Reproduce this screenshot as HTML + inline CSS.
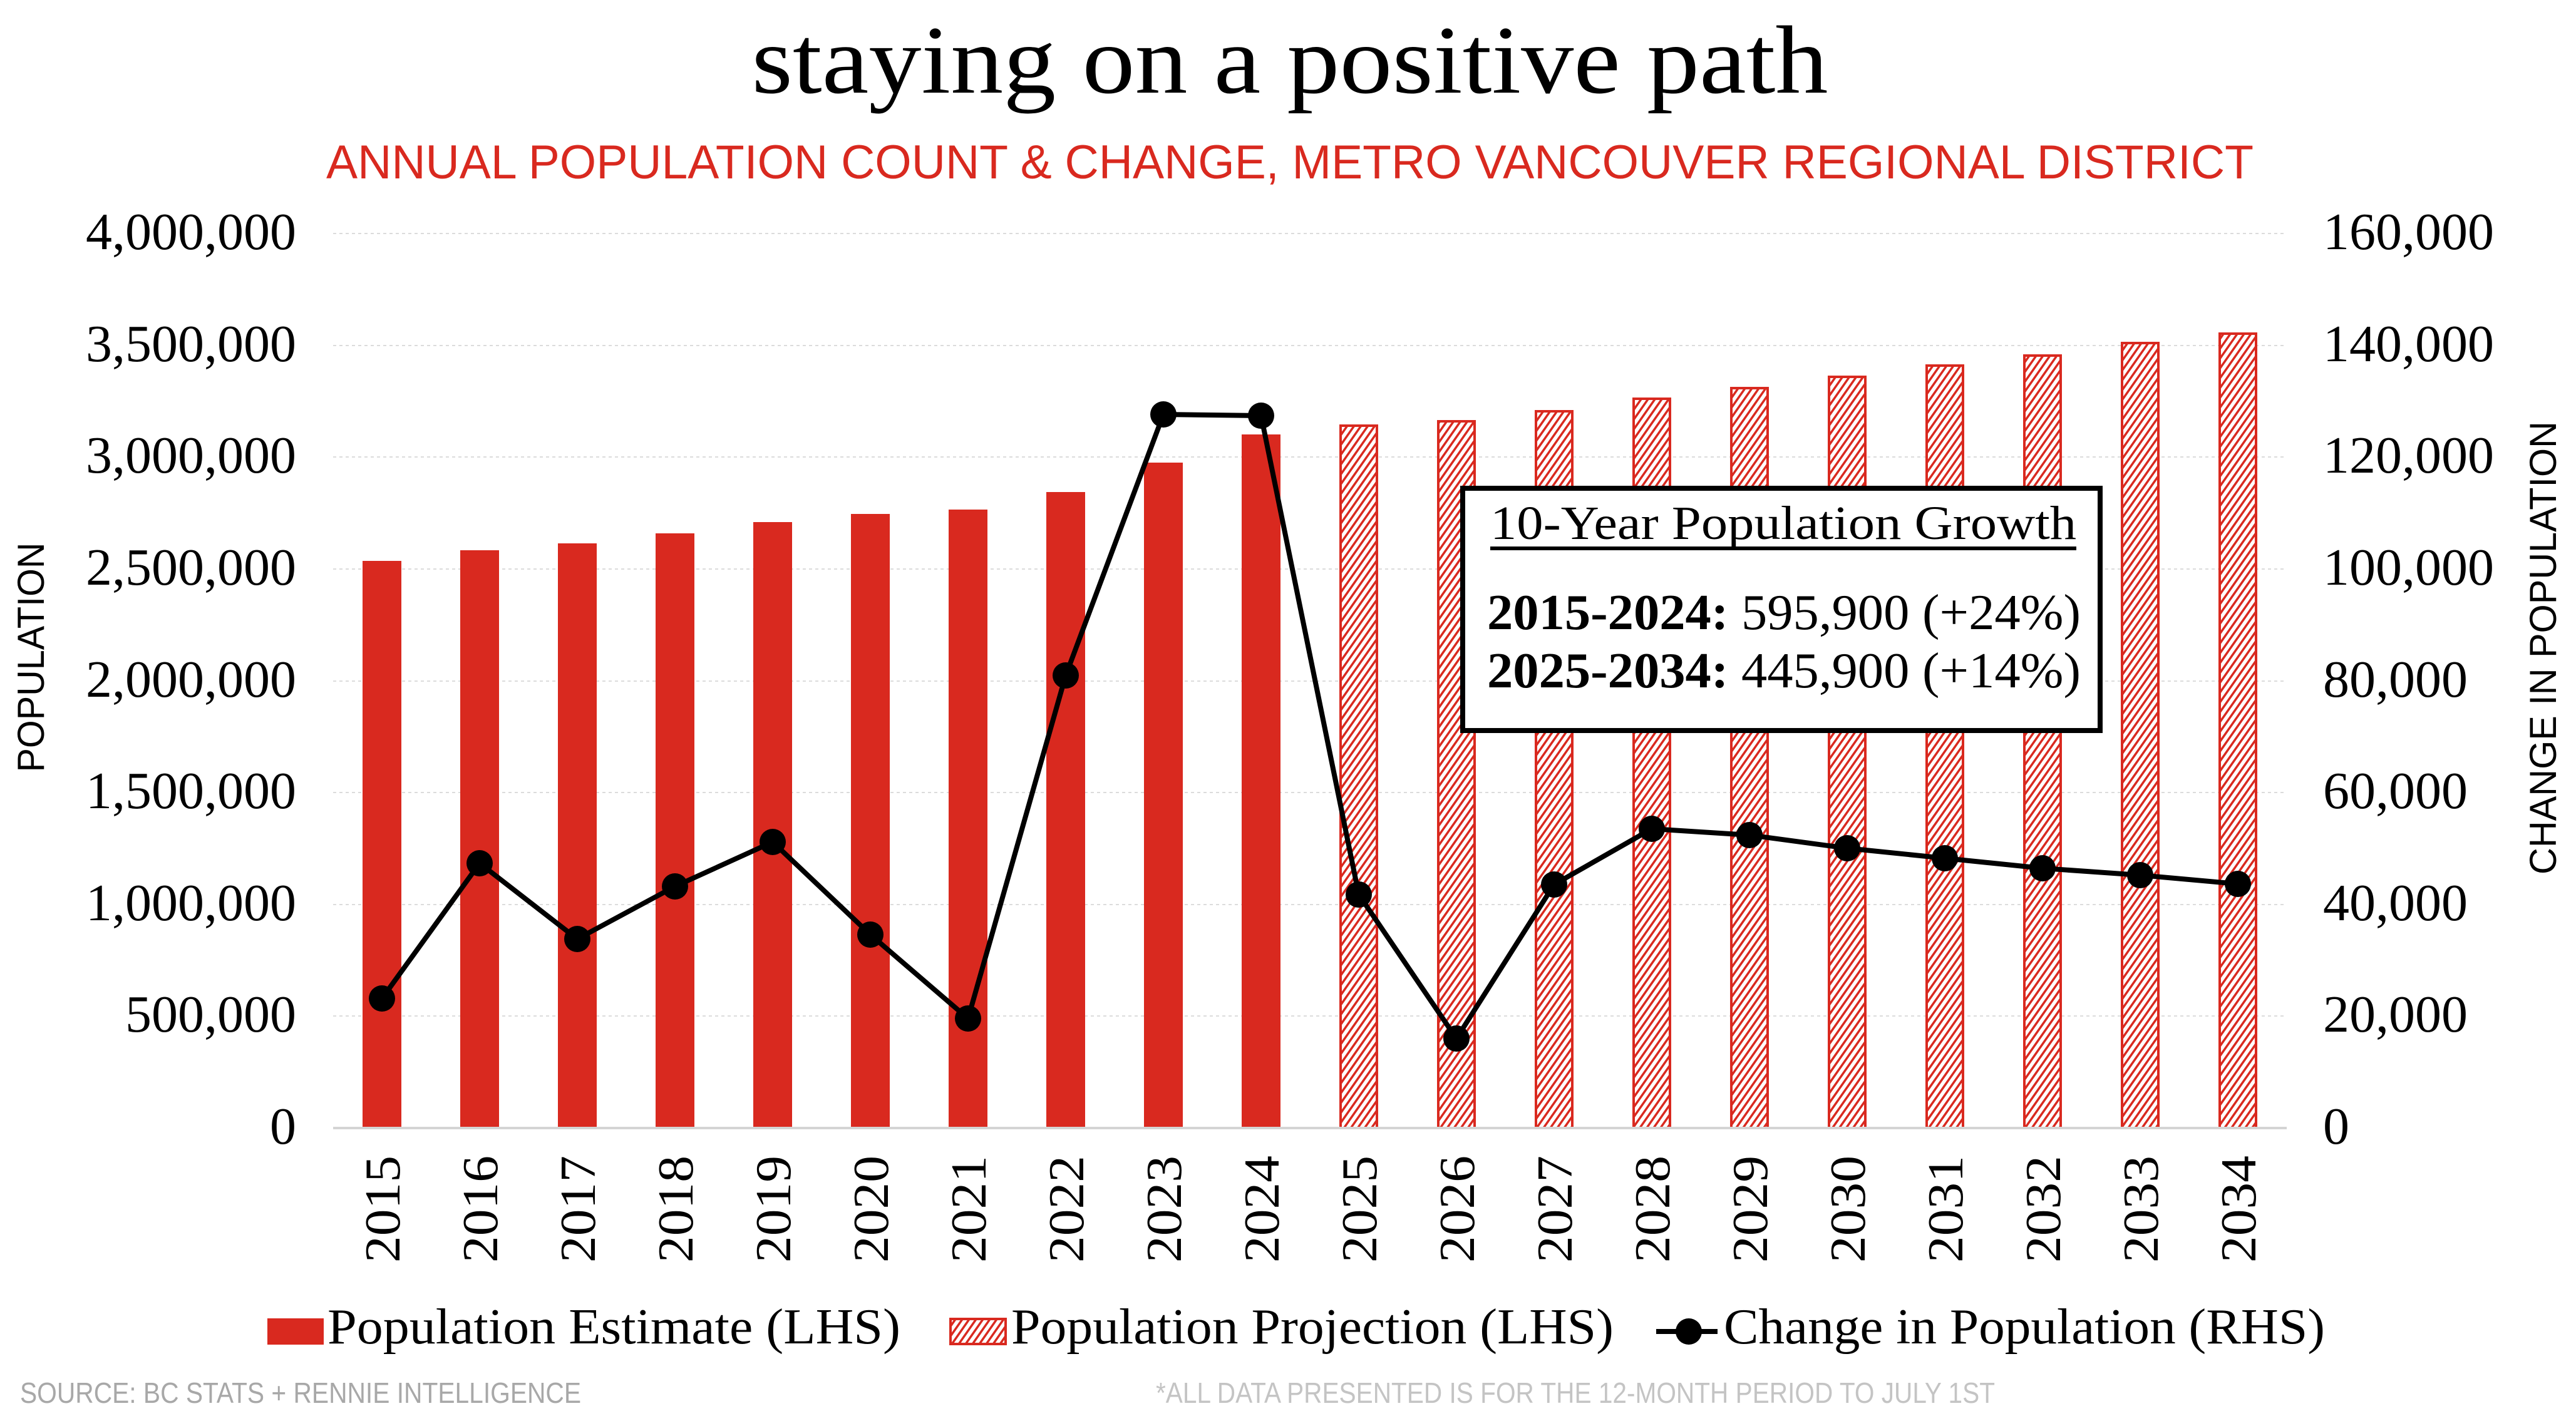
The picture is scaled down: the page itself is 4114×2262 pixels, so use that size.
<!DOCTYPE html>
<html><head><meta charset="utf-8"><style>
html,body{margin:0;padding:0;background:#fff;}
svg{display:block;}
</style></head><body>
<svg width="4114" height="2262" viewBox="0 0 4114 2262" xmlns="http://www.w3.org/2000/svg">
<defs>
<pattern id="h" patternUnits="userSpaceOnUse" width="9" height="9" patternTransform="rotate(35)">
<rect width="9" height="9" fill="#fff"/>
<rect x="0" y="0" width="3.5" height="9" fill="#d9291f"/>
</pattern>
</defs>
<rect width="4114" height="2262" fill="#fff"/>
<text x="2060" y="148" font-family="Liberation Serif, serif" font-size="155" text-anchor="middle" textLength="1719" lengthAdjust="spacingAndGlyphs">staying on a positive path</text>
<text x="2060" y="285" font-family="Liberation Sans Narrow, Liberation Sans, sans-serif" font-size="76" fill="#d9291f" text-anchor="middle" textLength="3078" lengthAdjust="spacingAndGlyphs">ANNUAL POPULATION COUNT &amp; CHANGE, METRO VANCOUVER REGIONAL DISTRICT</text>
<g stroke="#dcdcdc" stroke-width="2" stroke-dasharray="5,5">
<line x1="532" x2="3652" y1="373" y2="373"/>
<line x1="532" x2="3652" y1="552" y2="552"/>
<line x1="532" x2="3652" y1="730" y2="730"/>
<line x1="532" x2="3652" y1="909" y2="909"/>
<line x1="532" x2="3652" y1="1088" y2="1088"/>
<line x1="532" x2="3652" y1="1266" y2="1266"/>
<line x1="532" x2="3652" y1="1445" y2="1445"/>
<line x1="532" x2="3652" y1="1623" y2="1623"/>
</g>
<g font-family="Liberation Serif, serif" font-size="84" text-anchor="end">
<text x="473" y="398">4,000,000</text>
<text x="473" y="577">3,500,000</text>
<text x="473" y="755">3,000,000</text>
<text x="473" y="934">2,500,000</text>
<text x="473" y="1113">2,000,000</text>
<text x="473" y="1291">1,500,000</text>
<text x="473" y="1470">1,000,000</text>
<text x="473" y="1648">500,000</text>
<text x="473" y="1827">0</text>
</g>
<g font-family="Liberation Serif, serif" font-size="84" text-anchor="start">
<text x="3710" y="398">160,000</text>
<text x="3710" y="577">140,000</text>
<text x="3710" y="755">120,000</text>
<text x="3710" y="934">100,000</text>
<text x="3710" y="1113">80,000</text>
<text x="3710" y="1291">60,000</text>
<text x="3710" y="1470">40,000</text>
<text x="3710" y="1648">20,000</text>
<text x="3710" y="1827">0</text>
</g>
<text transform="translate(70,1050) rotate(-90)" font-family="Liberation Sans Narrow, Liberation Sans, sans-serif" font-size="60" text-anchor="middle" textLength="367" lengthAdjust="spacingAndGlyphs">POPULATION</text>
<text transform="translate(4082,1035) rotate(-90)" font-family="Liberation Sans Narrow, Liberation Sans, sans-serif" font-size="60" text-anchor="middle" textLength="724" lengthAdjust="spacingAndGlyphs">CHANGE IN POPULATION</text>
<g fill="#d9291f">
<rect x="579" y="896" width="62" height="906"/>
<rect x="735" y="879" width="62" height="923"/>
<rect x="891" y="868" width="62" height="934"/>
<rect x="1047" y="852" width="62" height="950"/>
<rect x="1203" y="834" width="62" height="968"/>
<rect x="1359" y="821" width="62" height="981"/>
<rect x="1515" y="814" width="62" height="988"/>
<rect x="1671" y="786" width="62" height="1016"/>
<rect x="1827" y="739" width="62" height="1063"/>
<rect x="1983" y="694" width="62" height="1108"/>
</g>
<g fill="url(#h)" stroke="#d9291f" stroke-width="4">
<rect x="2141" y="680" width="58" height="1122"/>
<rect x="2297" y="673" width="58" height="1129"/>
<rect x="2453" y="657" width="58" height="1145"/>
<rect x="2609" y="637" width="58" height="1165"/>
<rect x="2765" y="620" width="58" height="1182"/>
<rect x="2921" y="602" width="58" height="1200"/>
<rect x="3077" y="584" width="58" height="1218"/>
<rect x="3233" y="568" width="58" height="1234"/>
<rect x="3389" y="548" width="58" height="1254"/>
<rect x="3545" y="533" width="58" height="1269"/>
</g>
<line x1="532" x2="3652" y1="1802" y2="1802" stroke="#d4d4d4" stroke-width="4"/>
<polyline fill="none" stroke="#000" stroke-width="8" stroke-linejoin="round" points="610,1595 766,1379 922,1500 1078,1416 1234,1345 1390,1493 1546,1627 1702,1079 1858,662 2014,664 2170,1429 2326,1659 2482,1413 2638,1324 2794,1334 2950,1355 3106,1371 3262,1387 3418,1398 3574,1412"/>
<g fill="#000">
<circle cx="610" cy="1595" r="21"/><circle cx="766" cy="1379" r="21"/><circle cx="922" cy="1500" r="21"/><circle cx="1078" cy="1416" r="21"/><circle cx="1234" cy="1345" r="21"/><circle cx="1390" cy="1493" r="21"/><circle cx="1546" cy="1627" r="21"/><circle cx="1702" cy="1079" r="21"/><circle cx="1858" cy="662" r="21"/><circle cx="2014" cy="664" r="21"/><circle cx="2170" cy="1429" r="21"/><circle cx="2326" cy="1659" r="21"/><circle cx="2482" cy="1413" r="21"/><circle cx="2638" cy="1324" r="21"/><circle cx="2794" cy="1334" r="21"/><circle cx="2950" cy="1355" r="21"/><circle cx="3106" cy="1371" r="21"/><circle cx="3262" cy="1387" r="21"/><circle cx="3418" cy="1398" r="21"/><circle cx="3574" cy="1412" r="21"/>
</g>
<rect x="2336" y="780" width="1018" height="387" fill="#fff" stroke="#000" stroke-width="8"/>
<text x="2380" y="861" font-family="Liberation Serif, serif" font-size="76" textLength="936" lengthAdjust="spacingAndGlyphs">10-Year Population Growth</text>
<rect x="2380" y="873" width="936" height="6" fill="#000"/>
<text x="2375" y="1005" font-family="Liberation Serif, serif" font-size="80" textLength="948" lengthAdjust="spacingAndGlyphs"><tspan font-weight="bold">2015-2024:</tspan> 595,900 (+24%)</text>
<text x="2375" y="1098" font-family="Liberation Serif, serif" font-size="80" textLength="948" lengthAdjust="spacingAndGlyphs"><tspan font-weight="bold">2025-2034:</tspan> 445,900 (+14%)</text>
<g font-family="Liberation Serif, serif" font-size="80">
<text transform="translate(638,2017) rotate(-90)" textLength="171" lengthAdjust="spacingAndGlyphs">2015</text>
<text transform="translate(794,2017) rotate(-90)" textLength="171" lengthAdjust="spacingAndGlyphs">2016</text>
<text transform="translate(950,2017) rotate(-90)" textLength="171" lengthAdjust="spacingAndGlyphs">2017</text>
<text transform="translate(1106,2017) rotate(-90)" textLength="171" lengthAdjust="spacingAndGlyphs">2018</text>
<text transform="translate(1262,2017) rotate(-90)" textLength="171" lengthAdjust="spacingAndGlyphs">2019</text>
<text transform="translate(1418,2017) rotate(-90)" textLength="171" lengthAdjust="spacingAndGlyphs">2020</text>
<text transform="translate(1574,2017) rotate(-90)" textLength="171" lengthAdjust="spacingAndGlyphs">2021</text>
<text transform="translate(1730,2017) rotate(-90)" textLength="171" lengthAdjust="spacingAndGlyphs">2022</text>
<text transform="translate(1886,2017) rotate(-90)" textLength="171" lengthAdjust="spacingAndGlyphs">2023</text>
<text transform="translate(2042,2017) rotate(-90)" textLength="171" lengthAdjust="spacingAndGlyphs">2024</text>
<text transform="translate(2198,2017) rotate(-90)" textLength="171" lengthAdjust="spacingAndGlyphs">2025</text>
<text transform="translate(2354,2017) rotate(-90)" textLength="171" lengthAdjust="spacingAndGlyphs">2026</text>
<text transform="translate(2510,2017) rotate(-90)" textLength="171" lengthAdjust="spacingAndGlyphs">2027</text>
<text transform="translate(2666,2017) rotate(-90)" textLength="171" lengthAdjust="spacingAndGlyphs">2028</text>
<text transform="translate(2822,2017) rotate(-90)" textLength="171" lengthAdjust="spacingAndGlyphs">2029</text>
<text transform="translate(2978,2017) rotate(-90)" textLength="171" lengthAdjust="spacingAndGlyphs">2030</text>
<text transform="translate(3134,2017) rotate(-90)" textLength="171" lengthAdjust="spacingAndGlyphs">2031</text>
<text transform="translate(3290,2017) rotate(-90)" textLength="171" lengthAdjust="spacingAndGlyphs">2032</text>
<text transform="translate(3446,2017) rotate(-90)" textLength="171" lengthAdjust="spacingAndGlyphs">2033</text>
<text transform="translate(3602,2017) rotate(-90)" textLength="171" lengthAdjust="spacingAndGlyphs">2034</text>
</g>
<rect x="427" y="2106" width="90" height="42" fill="#d9291f"/>
<rect x="1518" y="2107" width="88" height="40" fill="url(#h)" stroke="#d9291f" stroke-width="4"/>
<line x1="2645" x2="2743" y1="2127" y2="2127" stroke="#000" stroke-width="8"/>
<circle cx="2697" cy="2127" r="21" fill="#000"/>
<g font-family="Liberation Serif, serif" font-size="80">
<text x="523" y="2146" textLength="915" lengthAdjust="spacingAndGlyphs">Population Estimate (LHS)</text>
<text x="1615" y="2146" textLength="962" lengthAdjust="spacingAndGlyphs">Population Projection (LHS)</text>
<text x="2753" y="2146" textLength="960" lengthAdjust="spacingAndGlyphs">Change in Population (RHS)</text>
</g>
<g font-family="Liberation Sans Narrow, Liberation Sans, sans-serif" font-size="46" fill="#a8a8a8">
<text x="32" y="2241" textLength="896" lengthAdjust="spacingAndGlyphs">SOURCE: BC STATS + RENNIE INTELLIGENCE</text>
<text x="1846" y="2241" fill="#c4c4c4" textLength="1340" lengthAdjust="spacingAndGlyphs">*ALL DATA PRESENTED IS FOR THE 12-MONTH PERIOD TO JULY 1ST</text>
</g>
</svg>
</body></html>
